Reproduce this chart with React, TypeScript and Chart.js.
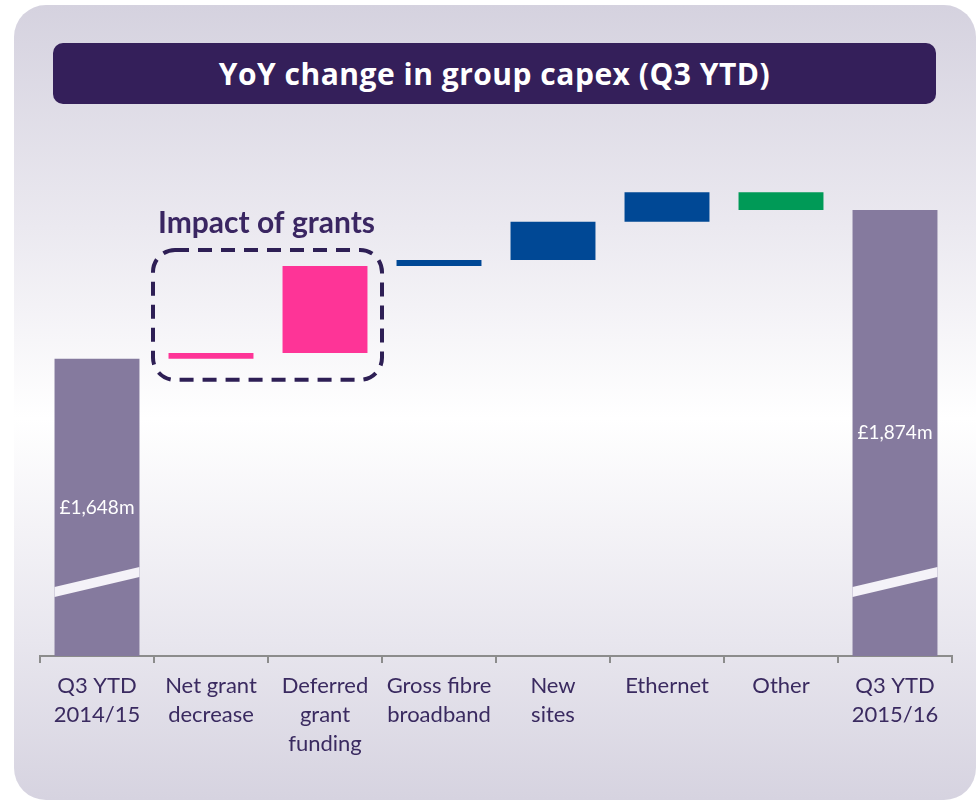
import React, { useEffect, useRef } from "react";
import { Chart, registerables } from "chart.js";

Chart.register(...registerables);

const categories: string[][] = [
  ["Q3 YTD", "2014/15"],
  ["Net grant", "decrease"],
  ["Deferred", "grant", "funding"],
  ["Gross fibre", "broadband"],
  ["New", "sites"],
  ["Ethernet"],
  ["Other"],
  ["Q3 YTD", "2015/16"],
];
const startValue = 1648;
const endValue = 1874;
const changes = [9, 132, 9, 58, 45, -27];
const axisMin = 1197; // broken axis base
const axisMax = 1965;
const barColors = ["#857a9e", "#fe3497", "#fe3497", "#004895", "#004895", "#004895", "#009a57", "#857a9e"];
const titleText = "YoY change in group capex (Q3 YTD)";
const groupLabel = "Impact of grants";

function buildRanges(): [number, number][] {
  const out: [number, number][] = [[axisMin, startValue]];
  let run = startValue;
  for (const c of changes) {
    const next = run + c;
    out.push([Math.min(run, next), Math.max(run, next)]);
    run = next;
  }
  out.push([axisMin, endValue]);
  return out;
}

const overlayPlugin = {
  id: "overlay",
  afterDatasetsDraw(chart: any) {
    const ctx = chart.ctx;
    const meta = chart.getDatasetMeta(0);
    const bottom = chart.chartArea.bottom;
    const last = meta.data.length - 1;
    const totals = [startValue, endValue];
    [0, last].forEach((i, k) => {
      const bar = meta.data[i];
      const left = bar.x - bar.width / 2;
      const right = bar.x + bar.width / 2;
      ctx.save();
      ctx.fillStyle = "#f4f2f8";
      ctx.beginPath();
      ctx.moveTo(left, bottom - 69);
      ctx.lineTo(right, bottom - 89);
      ctx.lineTo(right, bottom - 79);
      ctx.lineTo(left, bottom - 59);
      ctx.closePath();
      ctx.fill();
      ctx.fillStyle = "#ffffff";
      ctx.font = "19px Lato";
      ctx.textAlign = "center";
      ctx.textBaseline = "middle";
      const v = totals[k];
      ctx.fillText("£" + v.toLocaleString("en-GB") + "m", bar.x, (bar.y + bar.base) / 2);
      ctx.restore();
    });
    // dashed group box around grant bars
    const b1 = meta.data[1];
    const b2 = meta.data[2];
    const half = chart.scales.x.width / categories.length / 2;
    const left = b1.x - half - 1;
    const right = b2.x + half;
    const top = Math.min(b2.y, b2.base) - 16;
    const bot = Math.max(b1.y, b1.base) + 21;
    ctx.save();
    ctx.strokeStyle = "#2e1f55";
    ctx.lineWidth = 4;
    ctx.setLineDash([14, 9]);
    ctx.beginPath();
    (ctx as any).roundRect(left, top, right - left, bot - top, 22);
    ctx.stroke();
    ctx.setLineDash([]);
    ctx.fillStyle = "#3a2662";
    ctx.font = "bold 30px Lato";
    ctx.textAlign = "left";
    ctx.textBaseline = "middle";
    ctx.fillText(groupLabel, left + 5, top - 27);
    ctx.restore();
  },
};

export default function App() {
  const canvasRef = useRef<HTMLCanvasElement>(null);

  useEffect(() => {
    if (!canvasRef.current) return;
    const chart = new Chart(canvasRef.current, {
      type: "bar",
      data: {
        labels: categories,
        datasets: [
          {
            data: buildRanges() as any,
            backgroundColor: barColors,
            borderWidth: 0,
            barPercentage: 0.745,
            categoryPercentage: 1,
          },
        ],
      },
      options: {
        animation: false,
        responsive: false,
        layout: { padding: { left: 40, right: 28, top: 150, bottom: 0 } },
        plugins: { legend: { display: false }, tooltip: { enabled: false }, title: { display: false } },
        scales: {
          x: {
            offset: true,
            grid: {
              display: true,
              drawOnChartArea: false,
              drawTicks: true,
              tickLength: 7,
              tickColor: "#8c8c8c",
              lineWidth: 2,
              offset: true,
            },
            border: { display: true, color: "#8c8c8c", width: 2 },
            ticks: {
              color: "#3a2a60",
              font: { family: "Lato", size: 22, lineHeight: 1.32 },
              padding: 8,
              maxRotation: 0,
              autoSkip: false,
            },
            afterFit(scale: any) {
              scale.height = 146;
            },
          },
          y: { display: false, min: axisMin, max: axisMax },
        },
      },
      plugins: [overlayPlugin],
    });
    return () => chart.destroy();
  }, []);

  return (
    <div style={{ position: "absolute", left: 0, top: 0, width: 980, height: 802, background: "#ffffff", overflow: "hidden" }}>
      <div
        style={{
          position: "absolute",
          left: 14,
          top: 5,
          width: 962,
          height: 795,
          borderRadius: 32,
          background: "linear-gradient(to bottom, #d5d2df 0%, #ebe9f0 28%, #ffffff 52%, #e8e6ee 80%, #d6d3e0 100%)",
        }}
      />
      <div
        style={{
          position: "absolute",
          left: 53,
          top: 43,
          width: 883,
          height: 61,
          borderRadius: 10,
          background: "#341f5a",
          color: "#ffffff",
          fontFamily: "'Open Sans'",
          fontWeight: "bold",
          fontSize: 30,
          letterSpacing: 0.5,
          display: "flex",
          alignItems: "center",
          justifyContent: "center",
        }}
      >
        {titleText}
      </div>
      <canvas ref={canvasRef} width={980} height={802} style={{ position: "absolute", left: 0, top: 0 }} />
    </div>
  );
}
